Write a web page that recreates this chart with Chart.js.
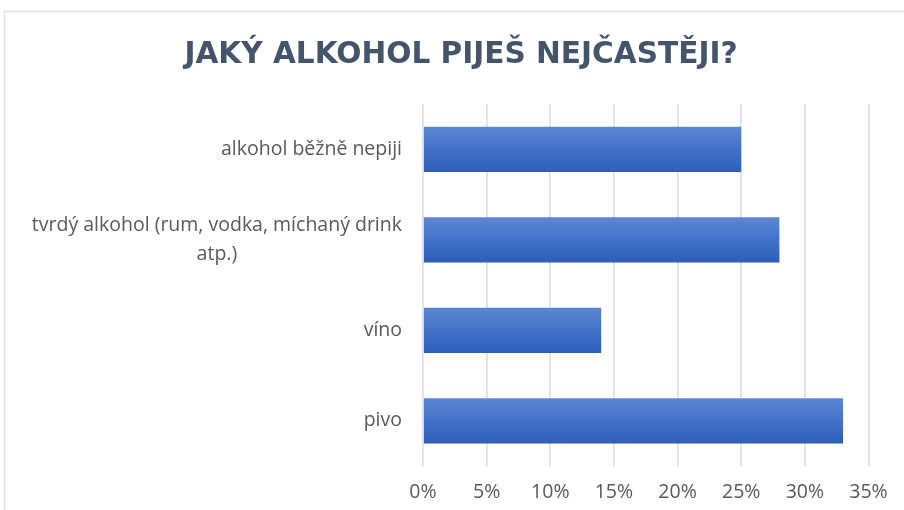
<!DOCTYPE html>
<html>
<head>
<meta charset="utf-8">
<script src="https://cdn.jsdelivr.net/npm/chart.js@4.4.1/dist/chart.umd.min.js"></script>
<style>
  html, body { margin: 0; padding: 0; background: #fff; }
  #wrap { width: 904px; height: 510px; position: relative; }
</style>
</head>
<body>
<div id="wrap"><canvas id="chart"></canvas></div>
<script>
// Jaký alkohol piješ nejčastěji? – horizontal bars

const TITLE      = "JAKÝ ALKOHOL PIJEŠ NEJČASTĚJI?";
const categories = [
  "alkohol běžně nepiji",
  ["tvrdý alkohol (rum, vodka, míchaný drink", "atp.)"],
  "víno",
  "pivo"
];
const shares     = [25, 28, 14, 33];   // percent
const xMin = 0, xMax = 35, xStep = 5;
const BAR_PCT = 0.5;

const TICK_FONT  = "19.5px 'Open Sans'";
const TICK_COLOR = "#595959";
const PAD_LEFT = 53.5, PAD_RIGHT = 35.5, PLOT_LEFT = 423;

// light frame around the whole chart, like the office export
const framePlugin = {
  id: "frame",
  beforeDraw(chart) {
    const ctx = chart.ctx;
    ctx.save();
    ctx.strokeStyle = "#dde1e7";
    ctx.lineWidth = 1.5;
    ctx.strokeRect(4.5, 11.5, 1000, 1000);
    ctx.restore();
  }
};

// category labels: wrapped lines are centred under each other (Excel style)
const catLabels = {
  id: "catLabels",
  afterDraw(chart) {
    const ctx = chart.ctx;
    const y = chart.scales.y;
    const right = chart.chartArea.left - 21;
    const lh = 29;
    ctx.save();
    ctx.font = TICK_FONT;
    ctx.fillStyle = TICK_COLOR;
    ctx.textAlign = "center";
    ctx.textBaseline = "middle";
    categories.forEach((lab, i) => {
      const lines = Array.isArray(lab) ? lab : [lab];
      const w = Math.max(...lines.map(l => ctx.measureText(l).width));
      const cx = right - w / 2;
      const start = y.getPixelForValue(i) - (lines.length - 1) * lh / 2;
      lines.forEach((l, k) => ctx.fillText(l, cx, start + k * lh));
    });
    ctx.restore();
  }
};

// vertical gradient per bar, worked out from the category scale
function barFill(context) {
  const chart = context.chart;
  const y = chart.scales && chart.scales.y;
  if (!chart.chartArea || !y || !isFinite(y.top)) return "#3b69c4";
  const band = (y.bottom - y.top) / categories.length;
  const h = band * BAR_PCT;
  const mid = y.getPixelForValue(context.dataIndex);
  if (!isFinite(mid)) return "#3b69c4";
  const top = mid - h / 2;
  const g = chart.ctx.createLinearGradient(0, top, 0, top + h);
  g.addColorStop(0, "#5d86d2");
  g.addColorStop(0.5, "#4272c8");
  g.addColorStop(1, "#2d5db8");
  return g;
}

const ctx = document.getElementById("chart").getContext("2d");
new Chart(ctx, {
  type: "bar",
  data: {
    labels: categories,
    datasets: [{
      data: shares,
      backgroundColor: barFill,
      borderWidth: 0,
      categoryPercentage: 1,
      barPercentage: BAR_PCT
    }]
  },
  options: {
    indexAxis: "y",
    responsive: true,
    maintainAspectRatio: false,
    animation: false,
    layout: { padding: { top: 0, right: PAD_RIGHT, bottom: -9.5, left: PAD_LEFT } },
    scales: {
      x: {
        min: xMin, max: xMax,
        ticks: {
          stepSize: xStep,
          padding: 15,
          color: TICK_COLOR,
          font: { family: "'Open Sans'", size: 19.5 },
          callback: v => v + "%"
        },
        grid: { color: "#dce0e8", lineWidth: 1.8, drawTicks: false },
        border: { display: false }
      },
      y: {
        afterFit: s => { s.width = PLOT_LEFT - PAD_LEFT; },
        ticks: { display: false },
        grid: { display: false },
        border: { display: false }
      }
    },
    plugins: {
      legend: { display: false },
      tooltip: { enabled: false },
      title: {
        display: true,
        text: TITLE,
        color: "#44546a",
        font: { family: "'DejaVu Sans'", size: 29.6, weight: "bold" },
        padding: { top: 38, bottom: 30.5 }
      }
    }
  },
  plugins: [framePlugin, catLabels]
});
</script>
</body>
</html>
